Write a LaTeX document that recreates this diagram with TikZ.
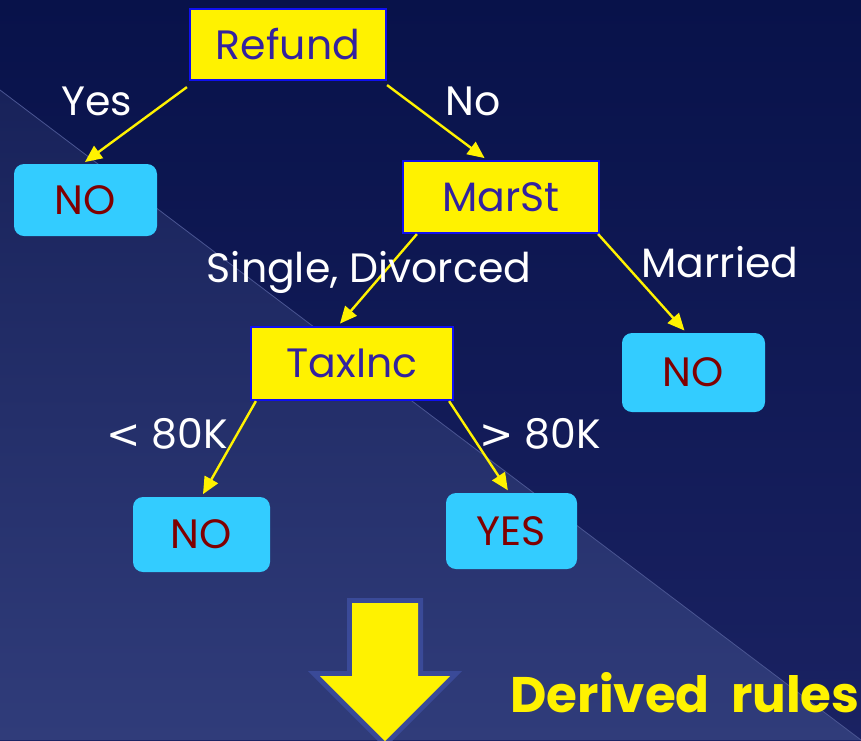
\documentclass[tikz,border=0pt]{standalone}
\usepackage{fontspec}
\setmainfont{Poppins}
\newfontfamily\symfont{DejaVu Sans}
\usetikzlibrary{arrows.meta,calc}
\definecolor{bgtop}{HTML}{08124A}
\definecolor{bgbot}{HTML}{1A2262}
\definecolor{lowtop}{HTML}{18225A}
\definecolor{lowbot}{HTML}{303C7A}
\definecolor{seam}{HTML}{4A5592}
\definecolor{testblue}{HTML}{1010F0}
\definecolor{testtext}{HTML}{3322A0}
\definecolor{leafcyan}{HTML}{33CCFF}
\definecolor{leaftext}{HTML}{800000}
\definecolor{arrowrim}{HTML}{3A4A98}
\tikzset{
  test/.style={draw=testblue, line width=2.2pt, fill=yellow, text=testtext,
    font=\fontsize{41}{43}\selectfont, inner sep=0pt},
  leaf/.style={fill=leafcyan, rounded corners=10pt, text=leaftext,
    font=\fontsize{41}{43}\selectfont, inner sep=0pt},
  lbl/.style={text=white, font=\fontsize{41}{43}\selectfont, inner sep=0pt},
  edge/.style={draw=yellow, line width=2.4pt,
    -{Triangle[length=17pt,width=15pt]}, shorten >=3pt}
}
\begin{document}
\begin{tikzpicture}[x=1pt,y=-1pt]
  \useasboundingbox (0,0) rectangle (861,740);
  % backdrop: dark navy with a lighter lower-left triangle
  \shade[top color=bgtop, bottom color=bgbot] (0,0) rectangle (861,740);
  \shade[top color=lowtop, bottom color=lowbot] (0,90) -- (861,740) -- (0,740) -- cycle;
  \draw[seam, line width=0.8pt] (0,90) -- (861,740);

  % decision nodes
  \node[test, minimum width=196pt, minimum height=71pt] (refund) at (288,44.5) {Refund};
  \node[test, minimum width=196pt, minimum height=72pt] (marst) at (501,197) {MarSt};
  \node[test, minimum width=202pt, minimum height=73pt] (taxinc) at (352,363.5) {TaxInc};

  % leaves
  \node[leaf, minimum width=143pt, minimum height=72pt] (no1) at (85.5,200) {NO};
  \node[leaf, minimum width=143pt, minimum height=79pt] (no2) at (693.5,372.5) {NO};
  \node[leaf, minimum width=137pt, minimum height=75pt] (no3) at (201.5,534.5) {NO};
  \node[leaf, minimum width=131pt, minimum height=76pt] (yes) at (511.5,531) {YES};

  % branches
  \draw[edge] ([xshift=-2pt,yshift=-6pt]refund.south west) -- ([xshift=-3pt]no1.north);
  \draw[edge] ([yshift=-4pt]refund.south east) -- ([xshift=-14pt]marst.north);
  \draw[edge] ([xshift=15pt]marst.south west) -- ([xshift=-14pt]taxinc.north);
  \draw[edge] ([xshift=-2pt]marst.south east) -- ([xshift=-7pt]no2.north);
  \draw[edge] ([xshift=6pt]taxinc.south west) -- (no3.north);
  \draw[edge] ([xshift=-5pt]taxinc.south east) -- ([xshift=-2pt]yes.north);

  % branch labels
  \node[lbl] (lyes) at (97,101) {Yes};
  \node[lbl] (lno) at (473,101) {No};
  \node[lbl] (lsd) at (369,272) {Single, Divorced};
  \node[lbl] (lmar) at (720,262) {Married};
  \node[lbl] (llt) at (167,434) {{\symfont<} 80K};
  \node[lbl] (lgt) at (540,434) {{\symfont>} 80K};

  % big downward arrow
  \path[fill=yellow, preaction={draw=arrowrim, line width=10pt, line join=miter}]
    (352,603) -- (418,603) -- (418,676) -- (450,676) -- (385,741)
    -- (320,676) -- (352,676) -- cycle;

  \node[text=yellow, font=\fontsize{50}{52}\selectfont\bfseries, inner sep=0pt]
    (rules) at (685,693) {Derived\ \ rules};
\end{tikzpicture}
\end{document}
